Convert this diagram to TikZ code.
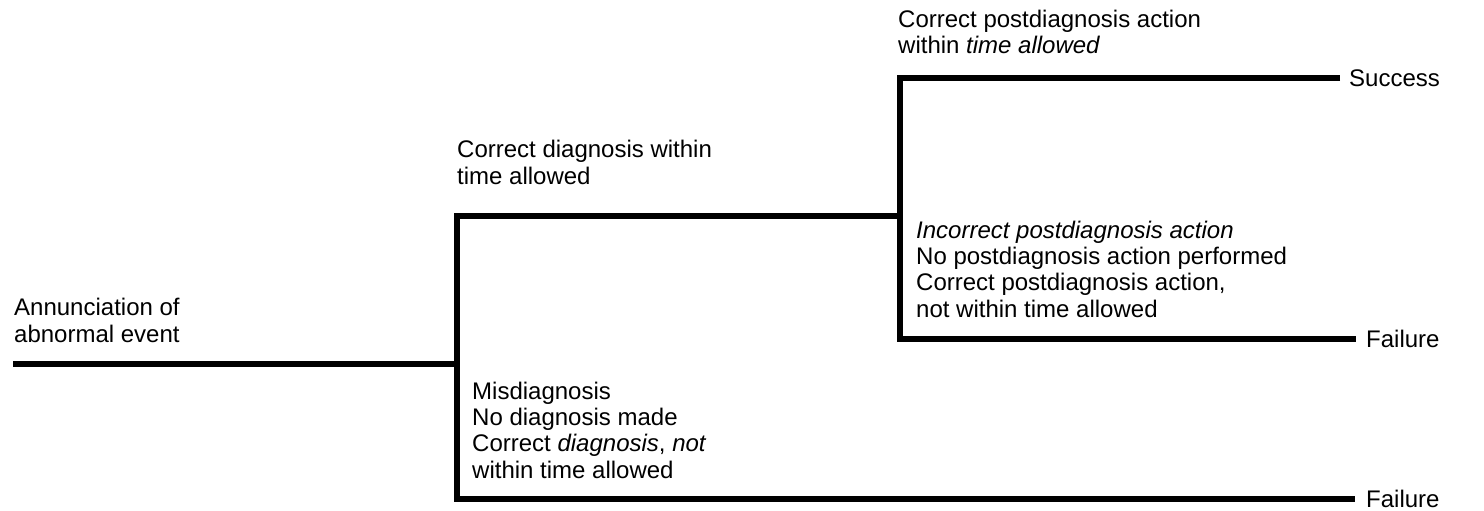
\documentclass[tikz,border=0pt]{standalone}
\usepackage{fontspec}
\setmainfont{Liberation Sans}
\begin{document}
\begin{tikzpicture}[x=1pt,y=-1pt,
  branch/.style={line width=6.5pt,line join=miter,line cap=butt},
  lbl/.style={anchor=base west,inner sep=0pt,align=left,font=\fontsize{24}{26.3}\selectfont},
  outcome/.style={anchor=west,inner sep=0pt,font=\fontsize{24}{26.3}\selectfont}]
\useasboundingbox (0,0) rectangle (1484,511);
% points of the tree
\coordinate (s) at (13,364);
\coordinate (j1) at (457,364);
\coordinate (v1top) at (457,216);
\coordinate (v1bot) at (457,499);
\coordinate (j2) at (900,216);
\coordinate (v2top) at (900,78);
\coordinate (v2bot) at (900,339);
\coordinate (e1) at (1340,78);
\coordinate (e2) at (1356,339);
\coordinate (e3) at (1355,499);
% outcomes
\node[outcome] (succ) at (1349,78) {Success};
\node[outcome] (fail1) at (1366,339) {Failure};
\node[outcome] (fail2) at (1366,499) {Failure};
% branches
\draw[branch] (s) -- (j1);
\draw[branch] (j2) -- (v1top) -- (v1bot) -- (e3);
\draw[branch] (e1) -- (v2top) -- (v2bot) -- (e2);
% labels (anchored at the baseline of their last line)
\node[lbl] (ann) at (14,342) {Annunciation of\\abnormal event};
\node[lbl] (cd) at (457,184) {Correct diagnosis within\\time allowed};
\node[lbl] (cpa) at (898,54) {Correct postdiagnosis action\\within \textit{time allowed}};
\node[lbl] (ipa) at (916,317) {\textit{Incorrect postdiagnosis action}\\No postdiagnosis action performed\\Correct postdiagnosis action,\\not within time allowed};
\node[lbl] (mis) at (472,478) {Misdiagnosis\\No diagnosis made\\Correct \textit{diagnosis}, \textit{not}\\within time allowed};
\end{tikzpicture}
\end{document}
